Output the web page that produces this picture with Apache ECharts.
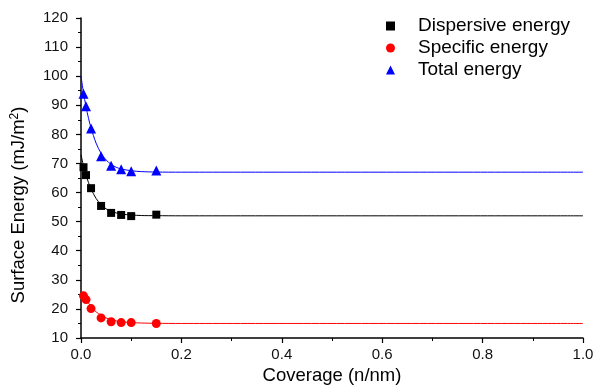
<!DOCTYPE html>
<html>
<head>
<meta charset="utf-8">
<script src="https://cdn.jsdelivr.net/npm/echarts@6/dist/echarts.min.js"></script>
<style>html,body{margin:0;padding:0;background:#fff}#c{width:597px;height:385px}</style>
</head>
<body>
<div id="c"></div>
<script>
// measured points
var coverage = [0.005, 0.01, 0.02, 0.04, 0.06, 0.08, 0.10, 0.15];
var dispersive = [68.7, 66.0, 61.5, 55.4, 53.0, 52.3, 51.9, 52.4];
var specific = [24.5, 23.2, 20.1, 16.9, 15.6, 15.3, 15.3, 15.0];
var total = [94.0, 89.7, 82.0, 72.5, 69.2, 68.0, 67.3, 67.6];

// fitted curves
var fitX = [0, 0.005, 0.01, 0.015, 0.02, 0.03, 0.04, 0.05, 0.06, 0.07, 0.08, 0.1, 0.12, 0.15, 0.2, 1.0];
var fitDispersive = [73, 69.2, 66, 63.4, 61.2, 58, 55.8, 54.4, 53.5, 53, 52.6, 52.3, 52.1, 52.05, 52, 52];
var fitSpecific = [26.5, 24.8, 23.3, 22, 20.8, 19, 17.8, 16.9, 16.3, 15.9, 15.6, 15.3, 15.15, 15.05, 15, 15];
var fitTotal = [100, 94.3, 89.5, 85.5, 82.2, 77, 73.5, 71.2, 69.7, 68.7, 68.1, 67.5, 67.2, 67.05, 67, 67];

var xTicks = ['0.0', '0.2', '0.4', '0.6', '0.8', '1.0'];
var seriesNames = ['Dispersive energy', 'Specific energy', 'Total energy'];

function pairs(xs, ys) { return xs.map(function (x, i) { return [x, ys[i]]; }); }

var FONT = 'Liberation Sans, Arial, sans-serif';
var chart = echarts.init(document.getElementById('c'), null, { renderer: 'canvas' });

var axisCommon = {
  axisLine: { show: true, lineStyle: { color: '#000', width: 1.5 } },
  axisTick: { show: true, inside: false, length: 5, lineStyle: { color: '#000', width: 1.2 } },
  minorTick: { show: true, splitNumber: 2, length: 3, lineStyle: { color: '#000', width: 1 } },
  splitLine: { show: false },
  axisLabel: { color: '#111', fontSize: 15, fontFamily: FONT }
};

chart.setOption({
  animation: false,
  backgroundColor: '#fff',
  grid: { left: 81, right: 14, top: 18, bottom: 47, containLabel: false, outerBoundsMode: 'none' },
  legend: {
    orient: 'vertical',
    left: 381,
    top: 11,
    itemWidth: 9,
    itemHeight: 9,
    itemGap: 2,
    data: [
      { name: seriesNames[0], icon: 'rect' },
      { name: seriesNames[1], icon: 'circle' },
      { name: seriesNames[2], icon: 'triangle' }
    ],
    textStyle: { color: '#000', fontSize: 19, fontFamily: FONT, lineHeight: 20, padding: [0, 0, 0, 18] }
  },
  xAxis: Object.assign({}, axisCommon, {
    type: 'value', min: 0, max: 1, interval: 0.2,
    name: 'Coverage (n/nm)', nameLocation: 'middle', nameGap: 27,
    nameTextStyle: { color: '#000', fontSize: 18.5, fontFamily: FONT },
    axisLabel: Object.assign({}, axisCommon.axisLabel, {
      margin: 9,
      formatter: function (v) { var s = v.toFixed(1); return xTicks.indexOf(s) >= 0 ? s : ''; }
    })
  }),
  yAxis: Object.assign({}, axisCommon, {
    type: 'value', min: 10, max: 120, interval: 10,
    name: 'Surface Energy (mJ/m{sup|2})', nameLocation: 'middle', nameGap: 52, nameRotate: 90,
    nameTextStyle: {
      color: '#000', fontSize: 18.5, fontFamily: FONT, padding: [0, 54, 0, 0],
      rich: { sup: { fontSize: 12, fontFamily: FONT, color: '#000', verticalAlign: 'top', padding: [0, 0, 8, 0] } }
    },
    axisLabel: Object.assign({}, axisCommon.axisLabel, { margin: 13 })
  }),
  series: [
    { name: 'fitD', type: 'line', data: pairs(fitX, fitDispersive), smooth: 0.3, showSymbol: false, lineStyle: { color: '#000', width: 1 }, silent: true, z: 1 },
    { name: 'fitS', type: 'line', data: pairs(fitX, fitSpecific), smooth: 0.3, showSymbol: false, lineStyle: { color: '#ff0000', width: 1 }, silent: true, z: 1 },
    { name: 'fitT', type: 'line', data: pairs(fitX, fitTotal), smooth: 0.3, showSymbol: false, lineStyle: { color: '#0000ff', width: 1 }, silent: true, z: 1 },
    { name: seriesNames[0], type: 'scatter', data: pairs(coverage, dispersive), symbol: 'rect', symbolSize: 8, itemStyle: { color: '#000', opacity: 1 }, z: 3 },
    { name: seriesNames[1], type: 'scatter', data: pairs(coverage, specific), symbol: 'circle', symbolSize: 9, itemStyle: { color: '#ff0000', opacity: 1 }, z: 3 },
    { name: seriesNames[2], type: 'scatter', data: pairs(coverage, total), symbol: 'triangle', symbolSize: 10, itemStyle: { color: '#0000ff', opacity: 1 }, z: 3 }
  ]
});
</script>
</body>
</html>
